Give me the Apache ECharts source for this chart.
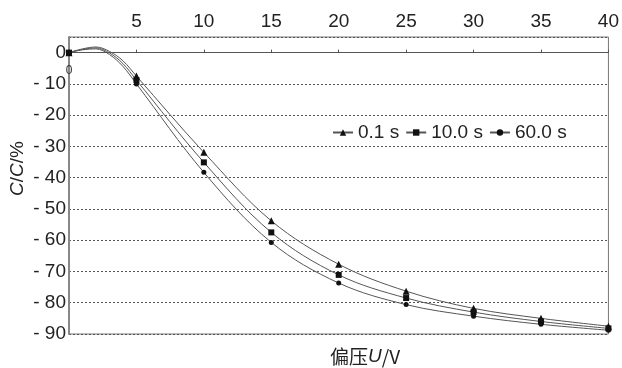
<!DOCTYPE html>
<html lang="zh">
<head>
    <meta charset="UTF-8">
    <title>偏压 C/C</title>
    <script src="https://cdn.jsdelivr.net/npm/echarts@6/dist/echarts.min.js"></script>
    <style>
        html, body { margin: 0; padding: 0; background: #fff; }
        #chart { width: 622px; height: 368px; }
    </style>
</head>
<body>
<div id="chart"></div>
<script>
// bias voltage (V); 1..4 only trace the small bump, no marker drawn there
const voltage = [0, 1, 2, 3, 4, 5, 10, 15, 20, 25, 30, 35, 40]
const markedAt = [0, 5, 10, 15, 20, 25, 30, 35, 40]
const seriesNames = ['0.1 s', '10.0 s', '60.0 s']
const t01 = [0, 1.2, 1.8, 0.4, -2.6, -7.5, -31.9, -53.8, -67.7, -76.3, -81.8, -85.0, -87.5]
const t10 = [0, 1.0, 1.5, -0.1, -3.5, -8.8, -35.1, -57.5, -71.1, -78.5, -83.0, -86.0, -88.2]
const t60 = [0, 0.9, 1.2, -0.6, -4.4, -10.0, -38.3, -60.7, -73.7, -80.6, -84.3, -86.9, -88.8]
const yTicks = [0, -10, -20, -30, -40, -50, -60, -70, -80, -90]

const FONT = "'Liberation Sans', Arial, sans-serif"
const GRID_TOP = 37, GRID_BOTTOM = 34, Y_MIN = -90, Y_MAX = 5
// distance from the bottom of the grid up to the y = 0 line
const ZERO_OFFSET = (368 - GRID_TOP - GRID_BOTTOM) * (0 - Y_MIN) / (Y_MAX - Y_MIN)

function toPoints(vals) {
    return voltage.map((x, i) => markedAt.includes(x)
        ? [x, vals[i]]
        : { value: [x, vals[i]], symbol: 'none' })
}

function makeSeries(name, vals, symbol, size) {
    return {
        name: name,
        type: 'line',
        smooth: 0.35,
        data: toPoints(vals),
        symbol: symbol,
        symbolSize: size,
        showAllSymbol: true,
        lineStyle: { color: '#555', width: 1 },
        itemStyle: { color: '#111' },
        z: 3
    }
}

const chart = echarts.init(document.getElementById('chart'))
chart.setOption({
    animation: false,
    textStyle: { fontFamily: FONT },
    grid: {
        left: 69, right: 6, top: GRID_TOP, bottom: GRID_BOTTOM,
        show: true, borderColor: '#777', borderWidth: 1
    },
    legend: {
        data: seriesNames,
        left: 327, top: 118,
        itemWidth: 20, itemHeight: 8, itemGap: 6,
        textStyle: { fontFamily: FONT, fontSize: 19, color: '#222' }
    },
    xAxis: [
        {
            type: 'value', min: 0, max: 40, interval: 5,
            position: 'top',
            axisLine: { show: false, onZero: false },
            axisTick: { show: false },
            splitLine: { show: false },
            axisLabel: { showMinLabel: false, fontSize: 19, color: '#222', margin: 6, fontFamily: FONT }
        },
        {
            // the zero line with its small ticks
            type: 'value', min: 0, max: 40, interval: 5,
            position: 'bottom',
            offset: -ZERO_OFFSET,
            axisLine: { onZero: false, lineStyle: { color: '#555', width: 1 } },
            axisTick: { inside: true, length: 3, lineStyle: { color: '#555' } },
            splitLine: { show: false },
            axisLabel: {
                formatter: v => v === 0 ? '0' : '',
                fontSize: 12, color: '#333', margin: 12, fontFamily: FONT
            }
        }
    ],
    yAxis: {
        type: 'value', min: Y_MIN, max: Y_MAX, interval: 10,
        axisLine: { show: true, lineStyle: { color: '#888', width: 2 } },
        axisTick: { show: false },
        splitLine: { lineStyle: { color: '#555', width: 1, type: [2, 2] } },
        axisLabel: {
            showMaxLabel: false,
            formatter: v => yTicks.includes(v) ? (v === 0 ? '0' : '- ' + (-v)) : '',
            fontSize: 19, color: '#222', margin: 3, fontFamily: FONT
        }
    },
    graphic: [
        {
            type: 'text',
            x: 8, y: 196, rotation: Math.PI / 2,
            style: {
                text: '{i|C}/{i|C}/%',
                font: '19px ' + FONT,
                fill: '#222',
                rich: { i: { fontStyle: 'italic', fontSize: 19, fontFamily: FONT } }
            }
        },
        {
            type: 'text',
            x: 330, y: 347,
            style: {
                text: '偏压{i|U}/V',
                font: "19px 'Noto Sans CJK SC', " + FONT,
                fill: '#222',
                rich: { i: { fontStyle: 'italic', fontSize: 19, fontFamily: FONT } }
            }
        }
    ],
    series: [
        makeSeries(seriesNames[0], t01, 'triangle', 7),
        makeSeries(seriesNames[1], t10, 'rect', 6),
        makeSeries(seriesNames[2], t60, 'circle', 5)
    ]
})
</script>
</body>
</html>
